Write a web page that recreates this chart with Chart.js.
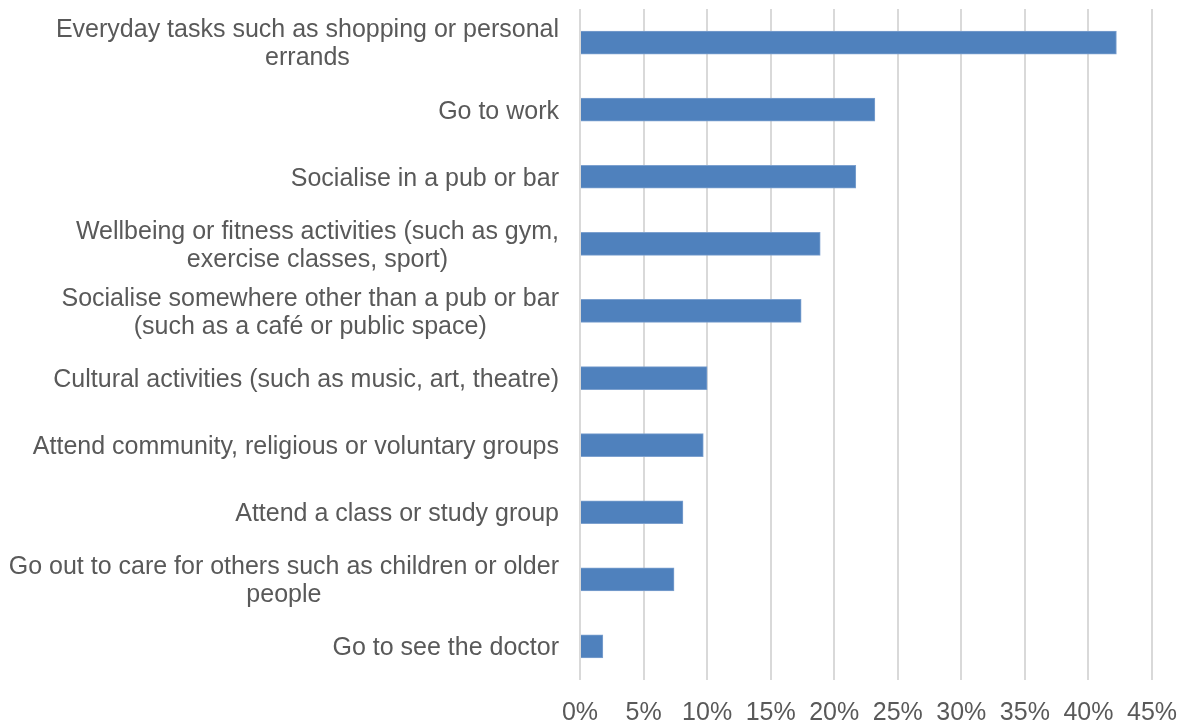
<!DOCTYPE html>
<html>
<head>
<meta charset="utf-8">
<script src="https://cdn.jsdelivr.net/npm/chart.js@4"></script>
<style>
  html, body { margin: 0; padding: 0; background: #fff; }
  #wrap { width: 1183px; height: 722px; position: relative; }
</style>
</head>
<body>
<div id="wrap"><canvas id="barChart"></canvas></div>
<script>
// Data
const categories = [
    ['Everyday tasks such as shopping or personal', 'errands'],
    ['Go to work'],
    ['Socialise in a pub or bar'],
    ['Wellbeing or fitness activities (such as gym,', 'exercise classes, sport)'],
    ['Socialise somewhere other than a pub or bar', '(such as a café or public space)'],
    ['Cultural activities (such as music, art, theatre)'],
    ['Attend community, religious or voluntary groups'],
    ['Attend a class or study group'],
    ['Go out to care for others such as children or older', 'people'],
    ['Go to see the doctor']
];
const shares = [42.2, 23.2, 21.7, 18.9, 17.4, 10.0, 9.7, 8.1, 7.4, 1.8];
const xTicks = [0, 5, 10, 15, 20, 25, 30, 35, 40, 45];

const fontFamily = '"Liberation Sans", Arial, sans-serif';
const labelFont = '25px ' + fontFamily;
const textColor = '#595959';

// Excel-style category labels: block right-aligned, lines centred within the block
const centredLabels = {
    id: 'centredLabels',
    afterDraw(chart) {
        const ctx = chart.ctx;
        const yScale = chart.scales.y;
        const right = yScale.right - 21;
        const lineH = 28;
        ctx.save();
        ctx.font = labelFont;
        ctx.fillStyle = textColor;
        ctx.textAlign = 'center';
        ctx.textBaseline = 'middle';
        categories.forEach((lines, i) => {
            const cy = yScale.getPixelForTick(i) + 2;
            const maxW = Math.max(...lines.map(l => ctx.measureText(l).width));
            const cx = right - maxW / 2;
            const top = cy - (lines.length - 1) * lineH / 2;
            lines.forEach((l, j) => ctx.fillText(l, cx, top + j * lineH));
        });
        ctx.restore();
    }
};

new Chart(document.getElementById('barChart').getContext('2d'), {
    type: 'bar',
    data: {
        labels: categories,
        datasets: [{
            data: shares,
            backgroundColor: '#4F81BD',
            borderColor: '#7DA1CF',
            borderWidth: 1,
            borderSkipped: 'start',
            barThickness: 23
        }]
    },
    options: {
        indexAxis: 'y',
        responsive: true,
        maintainAspectRatio: false,
        animation: false,
        layout: { padding: { top: 9, right: 31, bottom: 0, left: 0 } },
        plugins: { legend: { display: false }, tooltip: { enabled: false } },
        scales: {
            x: {
                min: 0,
                max: 45,
                afterBuildTicks: scale => { scale.ticks = xTicks.map(v => ({ value: v })); },
                afterFit: scale => {
                    scale.height = 42;
                    scale.paddingLeft = 0;
                    scale.paddingRight = 0;
                },
                ticks: {
                    callback: v => v + '%',
                    color: textColor,
                    font: { family: fontFamily, size: 25 },
                    padding: 18,
                    maxRotation: 0
                },
                grid: { color: '#D9D9D9', lineWidth: 2, drawTicks: false },
                border: { display: false }
            },
            y: {
                afterFit: scale => { scale.width = 580; },
                ticks: { display: false },
                grid: { display: false },
                border: { display: false }
            }
        }
    },
    plugins: [centredLabels]
});
</script>
</body>
</html>
